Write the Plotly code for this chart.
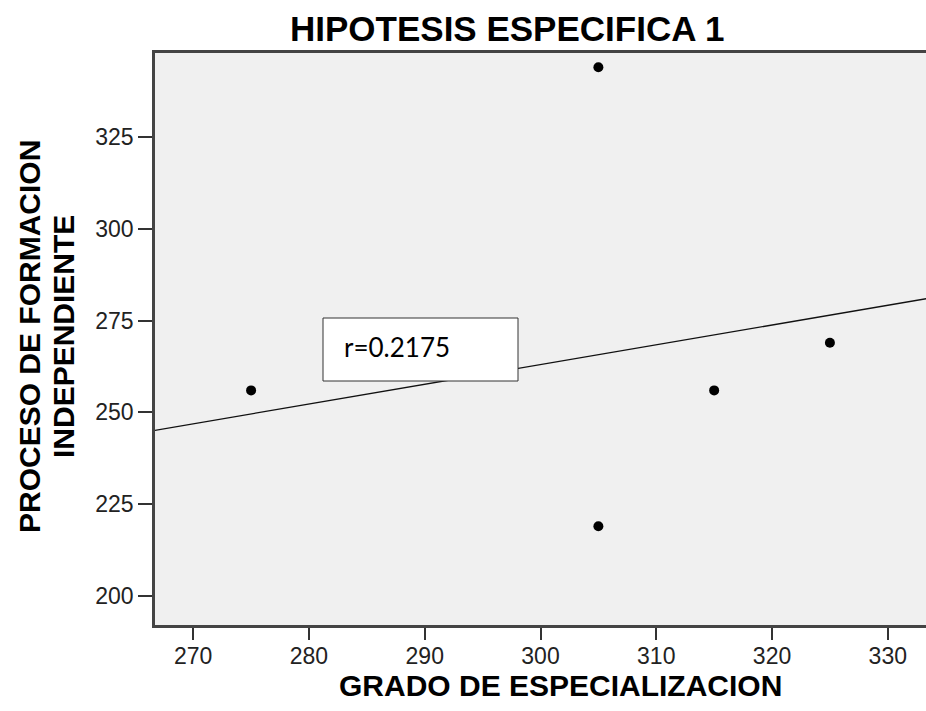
import plotly.graph_objects as go

# Data
grado = [275, 305, 305, 315, 325]          # GRADO DE ESPECIALIZACION
proceso = [256, 344, 219, 256, 269]        # PROCESO DE FORMACION INDEPENDIENTE
fit_slope = 0.538
fit_intercept = 246.9 - 0.538 * 270
r_label = "r=0.2175"
x_ticks = [270, 280, 290, 300, 310, 320, 330]
y_ticks = [200, 225, 250, 275, 300, 325]
x_range = [266.7, 333.3]
y_range = [192.1, 347.9]

fit_x = [x_range[0] - 5, x_range[1] + 5]
fit_y = [fit_intercept + fit_slope * v for v in fit_x]

AX = "Liberation Sans, Arial, sans-serif"

fig = go.Figure()
fig.add_trace(go.Scatter(x=fit_x, y=fit_y, mode="lines",
                         line=dict(color="#111111", width=1.3),
                         hoverinfo="skip", showlegend=False))
fig.add_trace(go.Scatter(x=grado, y=proceso, mode="markers",
                         marker=dict(color="black", size=10),
                         showlegend=False))

L, T, B = 155, 53, 86
W, H = 926, 711
PW = W - L
PH = H - T - B

fig.update_layout(
    width=W, height=H,
    margin=dict(l=L, r=0, t=T, b=B),
    paper_bgcolor="white", plot_bgcolor="#f0f0f0",
    font=dict(family=AX, color="#222222"),
    xaxis=dict(range=x_range, tickvals=x_ticks, ticks="outside", ticklen=12,
               tickwidth=2, tickcolor="#333333", showline=True, linewidth=2.5,
               linecolor="#444444", mirror=True, showgrid=False, zeroline=False,
               ticklabelstandoff=-3,
               tickfont=dict(size=23, color="#222222")),
    yaxis=dict(range=y_range, tickvals=y_ticks, ticks="outside", ticklen=14,
               tickwidth=2, tickcolor="#333333", showline=True, linewidth=2.5,
               linecolor="#444444", mirror=False, showgrid=False, zeroline=False,
               tickfont=dict(size=23, color="#222222")),
    showlegend=False,
)

# r box
fig.add_shape(type="rect", xref="paper", yref="paper",
              x0=(323 - L) / PW, x1=(518 - L) / PW,
              y0=(H - B - 381) / PH, y1=(H - B - 318) / PH,
              line=dict(color="#333333", width=1), fillcolor="white", layer="above")
fig.add_annotation(text=r_label, xref="paper", yref="paper",
                   x=(342 - L) / PW, y=(H - B - 347) / PH,
                   xanchor="left", yanchor="middle", showarrow=False,
                   font=dict(family="Lato, Carlito, sans-serif", size=26, color="black"))

# Title
fig.add_annotation(text="<b>HIPOTESIS ESPECIFICA 1</b>", xref="paper", yref="paper",
                   x=0, y=1, xshift=507 - L, yshift=T - 28,
                   xanchor="center", yanchor="middle", showarrow=False,
                   font=dict(family=AX, size=35, color="black"))
# X axis title
fig.add_annotation(text="<b>GRADO DE ESPECIALIZACION</b>", xref="paper", yref="paper",
                   x=0, y=0, xshift=560 - L, yshift=-(685 - (H - B)),
                   xanchor="center", yanchor="middle", showarrow=False,
                   font=dict(family=AX, size=30, color="black"))
# Y axis title (two lines)
fig.add_annotation(text="<b>PROCESO DE FORMACION</b>", xref="paper", yref="paper",
                   x=0, y=0.5, xshift=29 - L, yshift=(T + PH / 2) - 337,
                   xanchor="center", yanchor="middle", textangle=-90, showarrow=False,
                   font=dict(family=AX, size=30, color="black"))
fig.add_annotation(text="<b>INDEPENDIENTE</b>", xref="paper", yref="paper",
                   x=0, y=0.5, xshift=63 - L, yshift=(T + PH / 2) - 337,
                   xanchor="center", yanchor="middle", textangle=-90, showarrow=False,
                   font=dict(family=AX, size=30, color="black"))

fig.write_html("out.html", config={"displayModeBar": False},
               post_script="document.body.style.margin='0';document.body.style.overflow='hidden';")
